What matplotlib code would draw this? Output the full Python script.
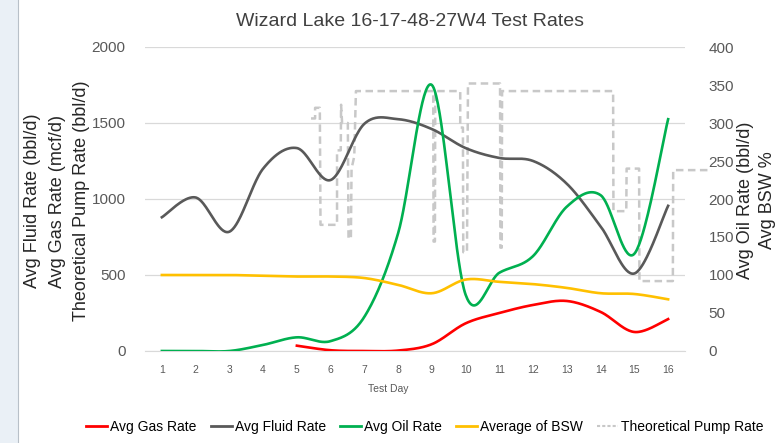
import numpy as np
import matplotlib
matplotlib.use('Agg')
import matplotlib.pyplot as plt
from matplotlib.lines import Line2D
from matplotlib.patches import Rectangle

plt.rcParams['font.family'] = ['Liberation Sans', 'DejaVu Sans']

# test data
days = [1, 2, 3, 4, 5, 6, 7, 8, 9, 10, 11, 12, 13, 14, 15, 16]
fluid_rate = [880, 1010, 785, 1200, 1335, 1125, 1495, 1525, 1460, 1335, 1270, 1250, 1100, 820, 510, 955]
gas_rate = [np.nan, np.nan, np.nan, np.nan, 35, 5, 0, 3, 45, 182, 250, 303, 329, 257, 125, 210]
oil_rate = [0, 0, 0, 8, 18, 13, 45, 155, 350, 74, 103, 125, 190, 205, 128, 305]
bsw = [100, 100, 100, 99, 98, 98, 96, 87, 76, 94, 91, 88, 83, 76, 75, 68]

# theoretical pump rate (finer time steps)
pump_day = [5.42, 5.54, 5.54, 5.68, 5.70, 6.19, 6.19, 6.30, 6.31, 6.34, 6.51, 6.53, 6.60, 6.62,
            6.70, 6.75, 9.04, 9.05, 9.09, 9.10, 9.84, 9.84, 9.92, 9.93, 10.04, 10.07, 11.02,
            11.03, 11.07, 11.08, 14.37, 14.38, 14.76, 14.77, 15.14, 15.15, 16.14, 16.15, 17.3]
pump_rate = [1530, 1530, 1600, 1600, 830, 830, 1320, 1320, 1620, 1500, 1500, 740, 740, 1200,
             1280, 1710, 1710, 720, 720, 1710, 1710, 1470, 1470, 650, 650, 1760, 1760,
             680, 680, 1710, 1710, 920, 920, 1200, 1200, 460, 460, 1190, 1190]


def smooth(x, y, n=40):
    # excel style smoothed line (bezier through the points)
    x = np.asarray(x, float)
    y = np.asarray(y, float)
    m = ~np.isnan(y)
    x, y = x[m], y[m]
    px = np.concatenate([[x[0]], x, [x[-1]]])
    py = np.concatenate([[y[0]], y, [y[-1]]])
    t = np.linspace(0, 1, n)
    xs, ys = [], []
    for i in range(len(x) - 1):
        x0, x1, x2, x3 = px[i:i + 4]
        y0, y1, y2, y3 = py[i:i + 4]
        cx1, cy1 = x1 + (x2 - x0) / 6, y1 + (y2 - y0) / 6
        cx2, cy2 = x2 - (x3 - x1) / 6, y2 - (y3 - y1) / 6
        b0, b1, b2, b3 = (1 - t) ** 3, 3 * (1 - t) ** 2 * t, 3 * (1 - t) * t ** 2, t ** 3
        xs.append(b0 * x1 + b1 * cx1 + b2 * cx2 + b3 * x2)
        ys.append(b0 * y1 + b1 * cy1 + b2 * cy2 + b3 * y2)
    return np.concatenate(xs), np.concatenate(ys)


fig = plt.figure(figsize=(7.75, 4.43), dpi=100)
fig.patches.append(Rectangle((0, 0), 18 / 775, 1, transform=fig.transFigure,
                             facecolor='#eaf0f6', edgecolor='none'))
fig.add_artist(Line2D([18 / 775, 18 / 775], [0, 1], color='#b8c0c8', lw=0.8))

ax = fig.add_axes([145 / 775, 1 - 351 / 443, 540 / 775, 304 / 443])
ax2 = ax.twinx()

c_gas, c_fluid, c_oil, c_bsw, c_pump = '#FF0000', '#595959', '#00B050', '#FFC000', '#C8C8C8'

ax.plot(pump_day, pump_rate, color=c_pump, lw=1.8, ls=(0, (3, 1.8)), clip_on=False, zorder=2)
gx, gy = smooth(days, gas_rate)
ax.plot(gx, gy, color=c_gas, lw=1.9, zorder=3)
fx, fy = smooth(days, fluid_rate)
ax.plot(fx, fy, color=c_fluid, lw=1.9, zorder=3)
ox, oy = smooth(days, oil_rate)
ax2.plot(ox, oy, color=c_oil, lw=1.9)
bx, by = smooth(days, bsw)
ax2.plot(bx, by, color=c_bsw, lw=1.9)

ax.set_xlim(0.5, 16.5)
ax.set_ylim(0, 2000)
ax2.set_ylim(0, 400)
ax.set_yticks([0, 500, 1000, 1500, 2000])
ax2.set_yticks(range(0, 401, 50))
ax.set_xticks(days)
ax.grid(axis='y', color='#d9d9d9', lw=0.9)
ax.set_axisbelow(True)

for a in (ax, ax2):
    for s in a.spines.values():
        s.set_visible(False)
ax.spines['bottom'].set_visible(True)
ax.spines['bottom'].set_color('#d9d9d9')

ax.tick_params(axis='y', length=0, pad=14, labelsize=11, labelcolor='#595959')
ax2.tick_params(axis='y', length=0, pad=17, labelsize=11, labelcolor='#595959')
ax.tick_params(axis='x', length=0, pad=10, labelsize=7.5, labelcolor='#595959')

fig.text(410 / 775, 1 - 22 / 443, 'Wizard Lake 16-17-48-27W4 Test Rates',
         ha='center', va='center', fontsize=14, color='#404040')
fig.text(388 / 775, 1 - 389 / 443, 'Test Day', ha='center', va='center',
         fontsize=7.5, color='#595959')

left_labels = ['Avg Fluid Rate (bbl/d)', 'Avg Gas Rate (mcf/d)', 'Theoretical Pump Rate (bbl/d)']
for xp, lab in zip([33, 57, 82], left_labels):
    fig.text(xp / 775, 1 - 201 / 443, lab, rotation=90, ha='center', va='center',
             fontsize=13, color='#262626')
for xp, lab in zip([745, 768], ['Avg Oil Rate (bbl/d)', 'Avg BSW %']):
    fig.text(xp / 775, 1 - 200 / 443, lab, rotation=90, ha='center', va='center',
             fontsize=13, color='#262626')

handles = [Line2D([], [], color=c_gas, lw=2),
           Line2D([], [], color=c_fluid, lw=2),
           Line2D([], [], color=c_oil, lw=2),
           Line2D([], [], color=c_bsw, lw=2),
           Line2D([], [], color=c_pump, lw=1.5, ls=(0, (1.5, 1)))]
names = ['Avg Gas Rate', 'Avg Fluid Rate', 'Avg Oil Rate', 'Average of BSW', 'Theoretical Pump Rate']
fig.legend(handles, names, loc='center', bbox_to_anchor=(425 / 775, 1 - 427 / 443),
           ncol=5, frameon=False, handlelength=1.5, handletextpad=0.2,
           columnspacing=1.05, prop={'size': 10})

fig.savefig('out.png', dpi=100)
